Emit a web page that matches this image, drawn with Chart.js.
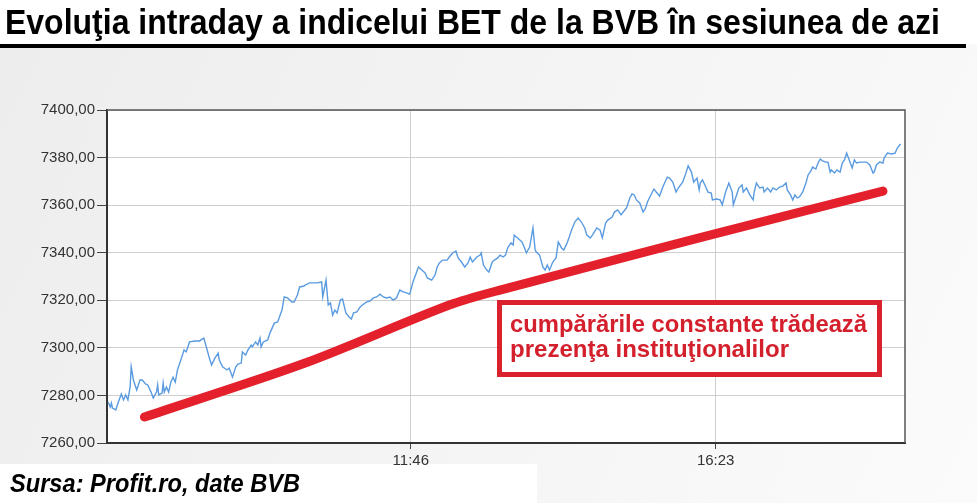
<!DOCTYPE html>
<html>
<head>
<meta charset="utf-8">
<script src="https://cdn.jsdelivr.net/npm/chart.js@4.4.1/dist/chart.umd.min.js"></script>
<style>
  html, body { margin: 0; padding: 0; background: #fff; }
  canvas { display: block; }
</style>
</head>
<body>
<canvas id="betChart" width="977" height="503"></canvas>
<script>
const titleText = 'Evoluţia intraday a indicelui BET de la BVB în sesiunea de azi';
const sourceText = 'Sursa: Profit.ro, date BVB';
const noteLines = ['cumpărările constante trădează', 'prezenţa instituţionalilor'];

// x axis in minutes of the day, only two labelled ticks (11:46, 16:23)
const timeTicks = [706, 983];
const xMin = 430, xMax = 1155;
const yMin = 7260, yMax = 7400, yStep = 20;

// [minute, BET value]
const betSeries = [
  [431,7277.2],[433,7275.1],[434,7276.8],[435,7274.7],[438,7273.9],[440,7276.8],[442,7279.3],[443,7280.6],
  [445,7278.1],[447,7280.2],[449,7278.1],[451,7283.5],[452,7292.0],[454,7286.5],[457,7282.3],[460,7286.5],
  [462,7286.5],[465,7284.8],[467,7284.4],[470,7281.4],[472,7278.9],[475,7281.4],[476,7284.4],[477,7280.2],
  [480,7281.0],[481,7285.2],[482,7281.4],[484,7283.5],[486,7281.4],[488,7285.6],[490,7287.7],[492,7285.6],
  [494,7290.7],[498,7296.2],[500,7299.1],[502,7298.3],[505,7302.5],[510,7302.9],[514,7302.9],[518,7304.1],
  [521,7299.1],[523,7295.7],[525,7292.8],[528,7295.7],[531,7297.8],[532,7294.9],[535,7292.0],[539,7290.7],
  [541,7291.5],[544,7287.7],[547,7292.0],[549,7293.2],[552,7293.6],[553,7298.3],[556,7297.0],[558,7299.1],
  [561,7301.2],[562,7300.4],[565,7302.5],[567,7301.2],[569,7304.1],[570,7300.4],[572,7302.5],[576,7303.3],
  [578,7306.2],[580,7308.3],[582,7310.4],[585,7310.9],[589,7315.9],[591,7321.4],[594,7321.0],[598,7319.3],
  [600,7319.3],[603,7322.2],[605,7325.6],[609,7326.0],
  [610,7326.4],[614,7327.3],[621,7327.3],[625,7327.7],[626,7321.4],[629,7328.5],[631,7318.0],[633,7318.9],
  [635,7313.8],[637,7315.9],[639,7314.7],[642,7320.1],[644,7320.5],[647,7314.7],[650,7313.0],[652,7312.1],
  [654,7314.7],[657,7315.1],[660,7317.2],[662,7318.0],[666,7319.3],[669,7319.7],[672,7321.0],[675,7321.4],
  [678,7322.6],[681,7321.4],[684,7321.0],[687,7321.4],[690,7320.1],[693,7321.0],[696,7324.3],[699,7323.5],
  [702,7323.1],[705,7322.6],[708,7327.7],[711,7331.5],[713,7334.0],[716,7332.7],[719,7331.5],[721,7329.4],
  [725,7328.5],[728,7330.6],[730,7334.0],[732,7335.7],[735,7336.9],[739,7336.9],[741,7338.2],[744,7339.9],
  [747,7340.7],[749,7337.8],[752,7336.1],[755,7334.0],[758,7335.7],[760,7338.2],[762,7336.1],[766,7338.2],
  [769,7339.0],[770,7339.9],[772,7334.8],[775,7332.7],[777,7331.9],[780,7336.1],[782,7336.9],[785,7337.8],
  [787,7339.0],[790,7338.2],[792,7339.0],[794,7342.0],[797,7344.1],[799,7343.2],[800,7347.4],[803,7346.2],
  [807,7344.5],[809,7342.4],[811,7339.9],[814,7342.4],[817,7350.4],[819,7341.1],[820,7340.3],[823,7339.0],
  [826,7334.0],[828,7332.7],[830,7334.8],[832,7332.7],[835,7336.1],[838,7337.8],[840,7344.5],[843,7342.0],
  [845,7341.1],[848,7344.1],[850,7346.6],[852,7349.5],[855,7352.9],[858,7354.6],[861,7352.9],[864,7350.4],
  [866,7347.4],[869,7346.2],[871,7347.4],[875,7350.4],[878,7349.5],[880,7346.2],[883,7352.5],[885,7353.7],
  [889,7355.0],[891,7357.1],[894,7358.0],[897,7355.9],[899,7357.1],[902,7358.8],[905,7363.0],[907,7364.7],
  [909,7364.3],[911,7362.2],[914,7360.9],[917,7357.1],[919,7358.4],[921,7361.3],[925,7365.1],[927,7366.8],
  [929,7365.5],[932,7363.8],[935,7367.6],[939,7371.8],[941,7371.4],[944,7369.7],[947,7365.5],[949,7367.2],
  [953,7369.7],[956,7373.5],[958,7376.5],[961,7373.9],[963,7369.7],[966,7371.4],[968,7366.4],
  [969,7369.3],[971,7370.6],[974,7367.6],[976,7365.5],[979,7365.1],[980,7362.2],[984,7362.6],[987,7362.2],
  [989,7360.1],[992,7365.5],[995,7369.3],[998,7365.5],[999,7360.1],[1002,7364.3],[1004,7367.2],[1007,7368.5],
  [1008,7365.5],[1011,7367.2],[1014,7364.3],[1017,7362.2],[1018,7365.5],[1020,7369.3],[1023,7367.2],[1026,7367.6],
  [1027,7365.5],[1030,7367.2],[1033,7365.5],[1035,7367.2],[1038,7366.4],[1041,7367.6],[1044,7368.0],[1047,7369.3],
  [1048,7366.4],[1051,7364.3],[1053,7362.2],[1055,7364.3],[1057,7363.0],[1059,7363.4],[1062,7365.5],[1065,7369.3],
  [1067,7372.7],[1070,7374.8],[1071,7376.0],[1074,7375.2],[1076,7377.7],[1078,7379.4],[1080,7378.6],[1083,7378.1],
  [1085,7378.1],[1087,7373.9],[1088,7374.8],[1091,7373.5],[1093,7374.8],[1096,7373.9],[1098,7377.7],[1100,7379.0],
  [1102,7381.9],[1105,7378.1],[1107,7375.6],[1109,7379.0],[1111,7377.7],[1114,7378.1],[1117,7378.1],[1120,7378.1],
  [1123,7376.9],[1126,7373.5],[1127,7373.9],[1129,7376.9],[1132,7378.1],[1135,7377.7],[1136,7379.8],[1139,7381.9],
  [1143,7381.5],[1146,7381.9],[1148,7384.0],[1151,7385.7]
];

// hand-drawn red trend stroke
const trendSeries = [[464,7270.9],[610,7293.6],[741,7318.0],[787,7324.3],[968,7346.2],[1135,7365.9]];

const toXY = (arr) => arr.map(([x, y]) => ({ x, y }));
const fmtTime = (m) => Math.floor(m / 60) + ':' + String(m % 60).padStart(2, '0');

// draw a string squeezed/stretched to a given width
function fitText(ctx, text, x, y, width, font) {
    ctx.save();
    ctx.font = font;
    const w = ctx.measureText(text).width;
    ctx.translate(x, y);
    ctx.scale(width / w, 1);
    ctx.fillText(text, 0, 0);
    ctx.restore();
}

const decorPlugin = {
    id: 'decor',
    beforeDraw(chart) {
        const { ctx, chartArea: a, width, height } = chart;
        ctx.save();
        const g = ctx.createLinearGradient(0, 50, width, height);
        g.addColorStop(0, '#ededed');
        g.addColorStop(1, '#fbfbfb');
        ctx.fillStyle = g;
        ctx.fillRect(0, 0, width, height);
        ctx.fillStyle = '#ffffff';
        ctx.fillRect(0, 0, width, 44);
        ctx.fillRect(a.left, a.top, a.right - a.left, a.bottom - a.top);
        ctx.fillRect(0, 464, 537, height - 464);
        ctx.fillStyle = '#000000';
        ctx.fillRect(0, 44, 966, 4);
        ctx.textBaseline = 'alphabetic';
        fitText(ctx, titleText, 5, 34, 935, 'bold 35px "Liberation Sans Narrow", "Liberation Sans", Arial');
        fitText(ctx, sourceText, 10, 492, 290, 'italic bold 26px "Liberation Sans Narrow", "Liberation Sans", Arial');
        ctx.restore();
    },
    afterDatasetsDraw(chart) {
        const { ctx, chartArea: a } = chart;
        ctx.save();
        // top / right frame
        ctx.strokeStyle = '#555';
        ctx.lineWidth = 1.5;
        ctx.beginPath();
        ctx.moveTo(a.left, a.top);
        ctx.lineTo(a.right, a.top);
        ctx.lineTo(a.right, a.bottom);
        ctx.stroke();
        // annotation box
        ctx.fillStyle = '#ffffff';
        ctx.fillRect(497, 300, 385, 77);
        ctx.strokeStyle = '#d9222e';
        ctx.lineWidth = 5;
        ctx.strokeRect(499.5, 302.5, 380, 72);
        ctx.fillStyle = '#d4202c';
        fitText(ctx, noteLines[0], 510, 332, 357, 'bold 24px "Liberation Sans", Arial');
        fitText(ctx, noteLines[1], 510, 357, 279, 'bold 24px "Liberation Sans", Arial');
        ctx.restore();
    }
};

const tickFont = { family: '"Liberation Sans", Arial', size: 15 };

new Chart(document.getElementById('betChart'), {
    type: 'line',
    data: {
        datasets: [
            {
                data: toXY(trendSeries),
                borderColor: '#e3202b',
                borderWidth: 9,
                borderCapStyle: 'round',
                borderJoinStyle: 'round',
                tension: 0.3,
                pointRadius: 0,
            },
            {
                data: toXY(betSeries),
                borderColor: '#5a9be0',
                borderWidth: 1.4,
                tension: 0,
                pointRadius: 0,
            },
        ],
    },
    options: {
        responsive: false,
        animation: false,
        layout: { padding: { left: 0, top: 110, right: 72, bottom: 0 } },
        plugins: {
            legend: { display: false },
            tooltip: { enabled: false },
        },
        scales: {
            x: {
                type: 'linear',
                min: xMin,
                max: xMax,
                afterBuildTicks(s) { s.ticks = timeTicks.map((v) => ({ value: v })); },
                afterFit(s) { s.height = 60; },
                ticks: {
                    autoSkip: false,
                    maxRotation: 0,
                    padding: 3,
                    color: '#333',
                    font: tickFont,
                    callback: (v) => fmtTime(v),
                },
                grid: { color: '#cfcfcf', tickColor: '#444', tickLength: 6 },
                border: { color: '#333', width: 2 },
            },
            y: {
                min: yMin,
                max: yMax,
                afterFit(s) { s.width = 107; },
                ticks: {
                    stepSize: yStep,
                    padding: 2,
                    color: '#333',
                    font: tickFont,
                    callback: (v) => v.toFixed(2).replace('.', ','),
                },
                grid: { color: '#cfcfcf', tickColor: '#444', tickLength: 10 },
                border: { color: '#333', width: 2 },
            },
        },
    },
    plugins: [decorPlugin],
});
</script>
</body>
</html>
